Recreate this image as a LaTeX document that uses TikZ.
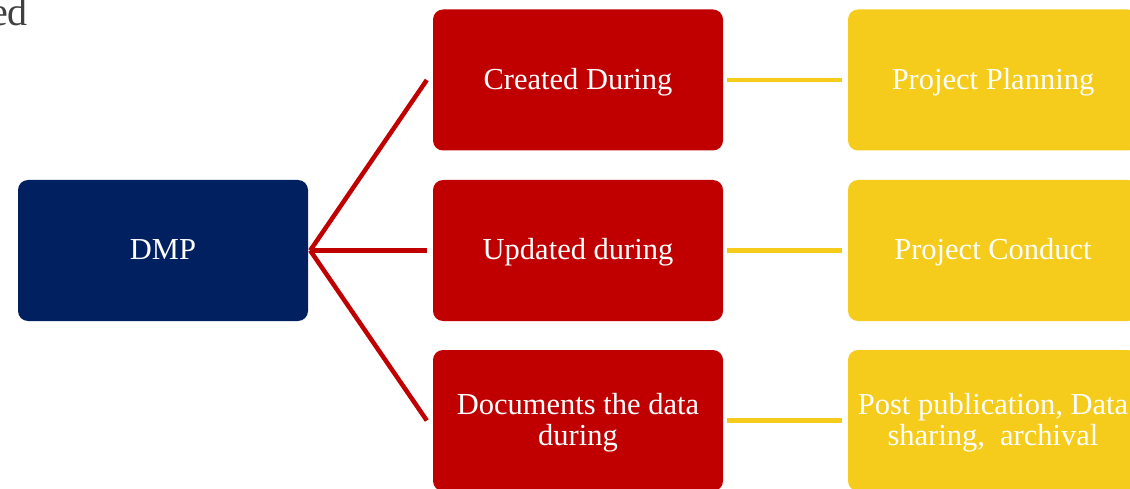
\documentclass[tikz,border=0pt]{standalone}
\usepackage{fontspec}
\setmainfont{Liberation Serif}
\usetikzlibrary{calc}
\definecolor{navy}{HTML}{002060}
\definecolor{darkred}{HTML}{C00000}
\definecolor{gold}{HTML}{F5CC1C}
\definecolor{titlegray}{HTML}{404040}
\newcommand{\boxtext}[1]{\raisebox{-3pt}[\height][\depth]{\makebox[290pt]{\begin{tabular}{@{}c@{}}#1\end{tabular}}}}
\begin{document}
\begin{tikzpicture}[x=1pt,y=-1pt,
  box/.style={rounded corners=10pt, minimum width=290pt, minimum height=141pt,
    text=white, inner sep=0pt,
    font=\fontsize{30.5}{31}\selectfont},
  navybox/.style={box, fill=navy},
  redbox/.style={box, fill=darkred},
  goldbox/.style={box, fill=gold},
  redline/.style={draw=darkred, line width=4.5pt},
  goldline/.style={draw=gold, line width=4.5pt}]
\useasboundingbox (0,0) rectangle (1130,489);
\clip (0,0) rectangle (1130,489);

\node[anchor=base east, text=titlegray, font=\fontsize{40}{44}\selectfont, inner sep=0pt] (title) at (28,26) {ed};

\node[navybox] (dmp) at (163,250.5) {\boxtext{DMP}};

\node[redbox] (r1) at (578,80) {\boxtext{Created During}};
\node[redbox] (r2) at (578,250.5) {\boxtext{Updated during}};
\node[redbox] (r3) at (578,420.5) {\boxtext{Documents the data\\during}};

\node[goldbox] (g1) at (993,80) {\boxtext{Project Planning}};
\node[goldbox] (g2) at (993,250.5) {\boxtext{Project Conduct}};
\node[goldbox] (g3) at (993,420.5) {\boxtext{Post publication, Data\\sharing,\ \ archival}};

\coordinate (e1) at ($(r1.west)+(-6,0)$);
\coordinate (e2) at ($(r2.west)+(-6,0)$);
\coordinate (e3) at ($(r3.west)+(-6,0)$);

\draw[redline] ($(dmp.east)+(2,0)$) -- (e1);
\draw[redline] ($(dmp.east)+(2,0)$) -- (e2);
\draw[redline] ($(dmp.east)+(2,0)$) -- (e3);

\draw[goldline, shorten <=4pt, shorten >=6pt] (r1.east) -- (g1.west);
\draw[goldline, shorten <=4pt, shorten >=6pt] (r2.east) -- (g2.west);
\draw[goldline, shorten <=4pt, shorten >=6pt] (r3.east) -- (g3.west);
\end{tikzpicture}
\end{document}
